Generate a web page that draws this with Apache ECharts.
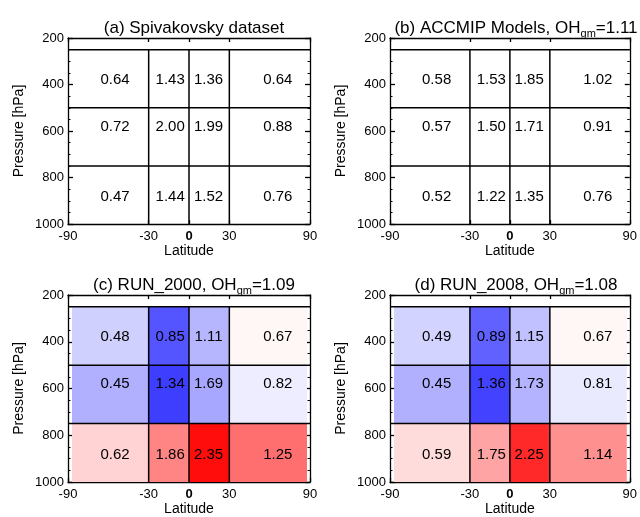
<!DOCTYPE html>
<html>
<head>
<meta charset="utf-8">
<title>OH zonal boxes</title>
<script src="https://cdn.jsdelivr.net/npm/echarts@6/dist/echarts.min.js"></script>
<style>
    html, body { margin: 0; padding: 0; background: #fff; }
    #main { width: 640px; height: 517px; }
</style>
</head>
<body>
<div id="main"></div>
<script>
// box edges (latitude, pressure) and where the numbers sit inside the boxes
var latEdges = [-90, -30, 0, 30, 90];
var presEdges = [250, 500, 750, 1000];
var latTicks = [-90, -30, 0, 30, 90];
var labelLat = [-55, -14, 14.5, 66];
var labelPres = [378, 582, 882];

// OH values, rows = pressure bands (top to bottom), cols = latitude bands
var spivakovsky = [[0.64, 1.43, 1.36, 0.64], [0.72, 2.00, 1.99, 0.88], [0.47, 1.44, 1.52, 0.76]];
var accmip = [[0.58, 1.53, 1.85, 1.02], [0.57, 1.50, 1.71, 0.91], [0.52, 1.22, 1.35, 0.76]];
var run2000 = [[0.48, 0.85, 1.11, 0.67], [0.45, 1.34, 1.69, 0.82], [0.62, 1.86, 2.35, 1.25]];
var run2008 = [[0.49, 0.89, 1.15, 0.67], [0.45, 1.36, 1.73, 0.81], [0.59, 1.75, 2.25, 1.14]];

var panelTitles = [
    '{t|(a) Spivakovsky dataset}',
    '{t|(b) ACCMIP Models, OH}{s|gm}{t|=1.11}',
    '{t|(c) RUN_2000, OH}{s|gm}{t|=1.09}',
    '{t|(d) RUN_2008, OH}{s|gm}{t|=1.08}'
];
var panelData = [spivakovsky, accmip, run2000, run2008];
var panelShaded = [false, false, true, true];

var FONT = '"Liberation Sans", Arial, sans-serif';
var grids = [
    {left: 68, top: 38, width: 242, height: 186},
    {left: 390, top: 38, width: 242, height: 186},
    {left: 68, top: 295, width: 242, height: 187},
    {left: 390, top: 295, width: 242, height: 187}
];

var chart = echarts.init(document.getElementById('main'));

var titles = [], xAxes = [], yAxes = [], series = [], shadedSeries = [];

grids.forEach(function (g, i) {
    titles.push({
        text: panelTitles[i],
        left: g.left + g.width / 2,
        top: g.top - 23,
        textAlign: 'center',
        textStyle: {
            rich: {
                t: {fontFamily: FONT, fontSize: 17, fontWeight: 'normal', color: '#000', verticalAlign: 'top', lineHeight: 18},
                s: {fontFamily: FONT, fontSize: 11, fontWeight: 'normal', color: '#000', verticalAlign: 'top', lineHeight: 11, padding: [8, 0, 0, 0]}
            }
        }
    });

    var lineStyle = {color: '#000', width: 1.3};
    // bottom axis with labels
    xAxes.push({
        gridIndex: i, type: 'value', position: 'bottom', min: -90, max: 90,
        axisLine: {show: true, onZero: false, lineStyle: lineStyle},
        axisTick: {show: true, inside: true, length: 4, customValues: latTicks, lineStyle: lineStyle},
        axisLabel: {
            customValues: latTicks, margin: 6, fontFamily: FONT, fontSize: 13, color: '#000',
            formatter: function (v) { return v === 0 ? '{b|0}' : String(v); },
            rich: {b: {fontFamily: FONT, fontSize: 13, fontWeight: 'bold', color: '#000'}}
        },
        splitLine: {show: false},
        name: 'Latitude', nameLocation: 'middle', nameGap: 18,
        nameTextStyle: {fontFamily: FONT, fontSize: 14, color: '#000'}
    });
    // top axis, ticks only
    xAxes.push({
        gridIndex: i, type: 'value', position: 'top', min: -90, max: 90,
        axisLine: {show: true, onZero: false, lineStyle: lineStyle},
        axisTick: {show: true, inside: true, length: 4, customValues: latTicks, lineStyle: lineStyle},
        axisLabel: {show: false},
        splitLine: {show: false}
    });
    // left axis with labels
    yAxes.push({
        gridIndex: i, type: 'value', position: 'left', inverse: true, min: 200, max: 1000, interval: 200,
        axisLine: {show: true, onZero: false, lineStyle: lineStyle},
        axisTick: {show: true, inside: true, length: 5, lineStyle: lineStyle},
        minorTick: {show: true, splitNumber: 4, length: 2.5, lineStyle: {color: '#000', width: 1}},
        axisLabel: {
            margin: 4, fontFamily: FONT, fontSize: 13, color: '#000',
            formatter: function (v) { return String(v); }
        },
        splitLine: {show: false},
        name: 'Pressure [hPa]', nameLocation: 'middle', nameGap: 42, nameRotate: 90,
        nameTextStyle: {fontFamily: FONT, fontSize: 14, color: '#000'}
    });
    // right axis, ticks only
    yAxes.push({
        gridIndex: i, type: 'value', position: 'right', inverse: true, min: 200, max: 1000, interval: 200,
        axisLine: {show: true, onZero: false, lineStyle: lineStyle},
        axisTick: {show: true, inside: true, length: 5, lineStyle: lineStyle},
        minorTick: {show: true, splitNumber: 4, length: 2.5, lineStyle: {color: '#000', width: 1}},
        axisLabel: {show: false},
        splitLine: {show: false}
    });

    var xi = i * 2, yi = i * 2;
    var vals = panelData[i];

    // shaded boxes: colour = difference from the Spivakovsky box
    if (panelShaded[i]) {
        var cells = [];
        for (var r = 0; r < presEdges.length - 1; r++) {
            for (var c = 0; c < latEdges.length - 1; c++) {
                cells.push([latEdges[c], latEdges[c + 1], presEdges[r], presEdges[r + 1],
                    +(vals[r][c] - spivakovsky[r][c]).toFixed(2)]);
            }
        }
        shadedSeries.push(series.length);
        series.push({
            type: 'custom', xAxisIndex: xi, yAxisIndex: yi, silent: true, z: 1,
            encode: {x: [0, 1], y: [2, 3]},
            data: cells,
            renderItem: function (params, api) {
                var a = api.coord([api.value(0), api.value(2)]);
                var b = api.coord([api.value(1), api.value(3)]);
                var x0 = a[0], x1 = b[0];
                if (api.value(0) === -90) x0 += 4;
                if (api.value(1) === 90) x1 -= 3;
                return {
                    type: 'rect',
                    shape: {x: x0, y: a[1], width: x1 - x0, height: b[1] - a[1]},
                    style: {fill: api.visual('color')}
                };
            }
        });
    }

    // box outlines
    var lines = [];
    presEdges.slice(0, -1).forEach(function (p) { lines.push([-90, 90, p, p]); });
    latEdges.slice(1, -1).forEach(function (l) {
        lines.push([l, l, presEdges[0], presEdges[presEdges.length - 1]]);
    });
    series.push({
        type: 'custom', xAxisIndex: xi, yAxisIndex: yi, silent: true, z: 3,
        encode: {x: [0, 1], y: [2, 3]},
        data: lines,
        renderItem: function (params, api) {
            var a = api.coord([api.value(0), api.value(2)]);
            var b = api.coord([api.value(1), api.value(3)]);
            return {
                type: 'line',
                shape: {x1: a[0], y1: a[1], x2: b[0], y2: b[1]},
                style: {stroke: '#000', lineWidth: 1.5}
            };
        }
    });

    // numbers
    var labels = [];
    for (var r2 = 0; r2 < vals.length; r2++) {
        for (var c2 = 0; c2 < vals[r2].length; c2++) {
            labels.push([labelLat[c2], labelPres[r2], vals[r2][c2]]);
        }
    }
    series.push({
        type: 'custom', xAxisIndex: xi, yAxisIndex: yi, silent: true, z: 4,
        encode: {x: 0, y: 1},
        data: labels,
        renderItem: function (params, api) {
            var p = api.coord([api.value(0), api.value(1)]);
            return {
                type: 'text', x: p[0], y: p[1],
                style: {
                    text: api.value(2).toFixed(2), fill: '#000',
                    font: '15px ' + FONT, align: 'center', verticalAlign: 'middle'
                }
            };
        }
    });
});

chart.setOption({
    backgroundColor: '#fff',
    animation: false,
    title: titles,
    grid: grids,
    xAxis: xAxes,
    yAxis: yAxes,
    visualMap: {
        type: 'continuous', show: false, seriesIndex: shadedSeries, dimension: 4,
        min: -0.87, max: 0.87,
        inRange: {color: ['#0000ff', '#ffffff', '#ff0000']}
    },
    series: series
});
</script>
</body>
</html>
